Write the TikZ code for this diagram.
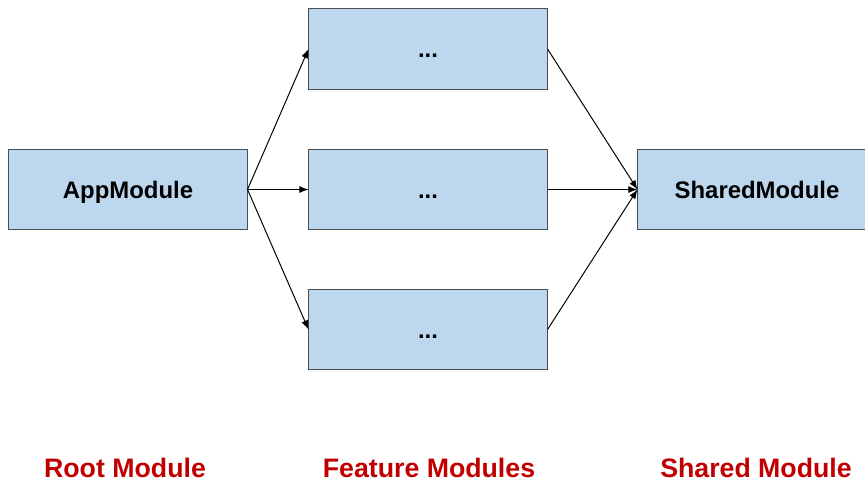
\documentclass[tikz,border=0pt]{standalone}
\usepackage{fontspec}
\setmainfont{Liberation Sans}
\usetikzlibrary{arrows.meta,shapes,positioning}

\definecolor{boxblue}{HTML}{BDD7EE}
\definecolor{labelred}{HTML}{C00000}

\tikzset{
    module/.style={draw=black!70, fill=boxblue, line width=0.7pt, minimum width=5.95cm, minimum height=2.02cm, inner sep=0pt, text height=12.2pt, text depth=0pt, font=\fontsize{17}{20}\selectfont\bfseries},
    tier/.style={text=labelred, font=\fontsize{19}{22}\selectfont\bfseries},
    link/.style={-{Latex[length=6.5pt,width=5pt]}, line width=0.7pt}
}

\begin{document}
\begin{tikzpicture}[x=0.025cm, y=-0.025cm]
            \useasboundingbox (0,0) rectangle (865,483);
            \node[module] (app) at (128,189.5) {AppModule};
            \node[module] (featA) at (428,49) {...};
            \node[module] (featB) at (428,189.5) {...};
            \node[module] (featC) at (428,329.5) {...};
            \node[module] (shared) at (757,189.5) {SharedModule};
            \draw[link] (app.east) -- (featA.west);
            \draw[link] (app.east) -- (featB.west);
            \draw[link] (app.east) -- (featC.west);
            \draw[link] (featA.east) -- (shared.west);
            \draw[link] (featB.east) -- (shared.west);
            \draw[link] (featC.east) -- (shared.west);
            \node[tier] (root) at (125,468) {Root Module};
            \node[tier] (feat) at (429,468) {Feature Modules};
            \node[tier] (shrd) at (756,468) {Shared Module};
        \end{tikzpicture}
\end{document}
